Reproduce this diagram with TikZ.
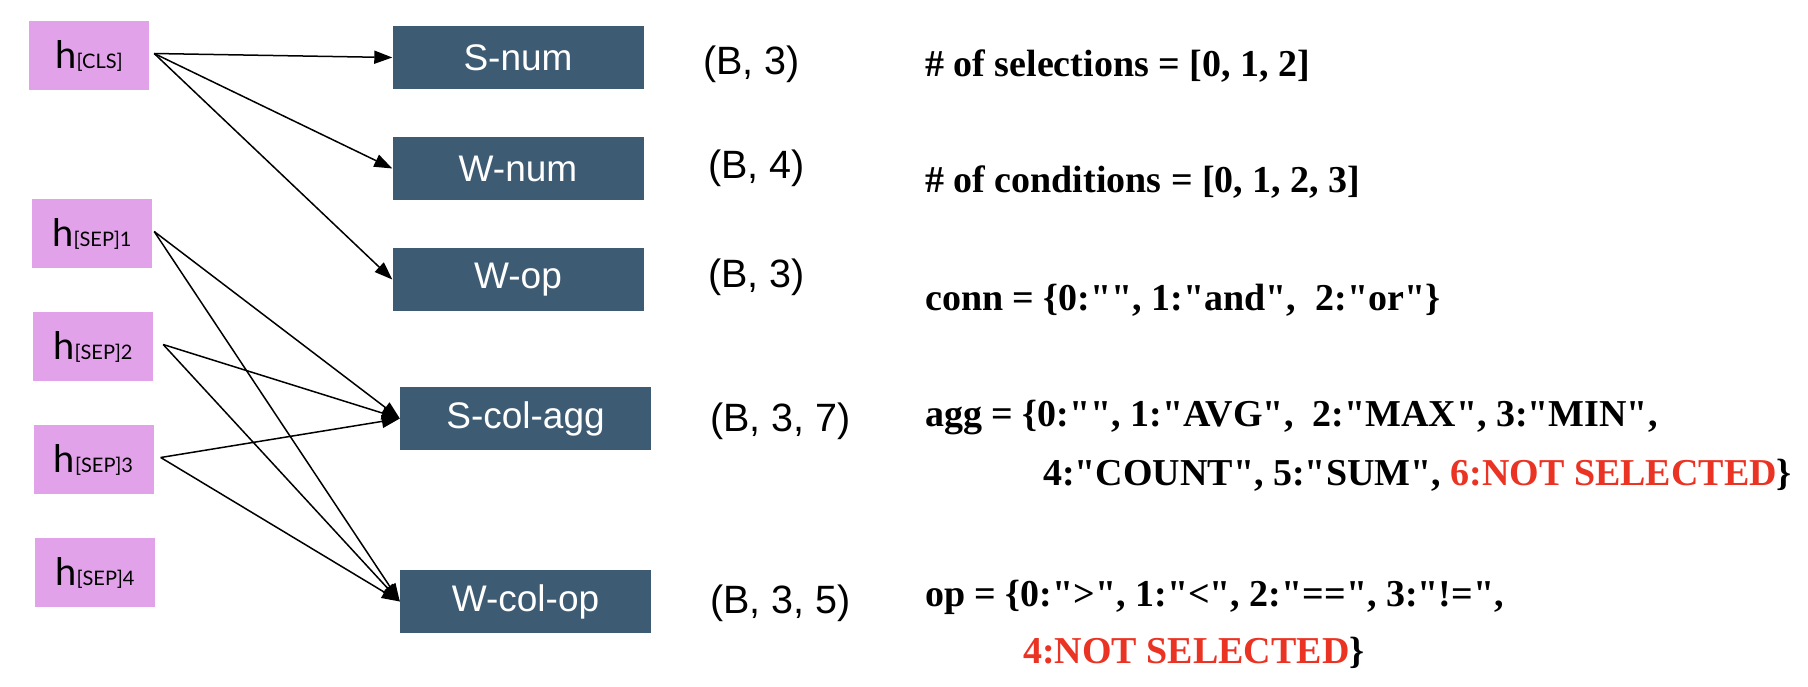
\documentclass[tikz,border=0pt]{standalone}
\usepackage{xcolor}
\usepackage{fontspec}
\setmainfont{Liberation Serif}[Ligatures=TeXOff]
\newfontfamily\headfont{Liberation Sans}
\newfontfamily\tokfont{Lato}
\usetikzlibrary{arrows.meta}
\definecolor{tokpink}{RGB}{226,162,234}
\definecolor{headblue}{RGB}{62,91,116}
\definecolor{selred}{RGB}{234,51,35}
\newcommand{\tokidx}[1]{{\fontsize{20}{24}\selectfont #1}}

\begin{document}
\begin{tikzpicture}[x=1pt, y=-1pt,
    token/.style={fill=tokpink, minimum width=120pt, minimum height=69pt, inner sep=0pt, font=\tokfont\fontsize{38}{44}\selectfont},
    head/.style={fill=headblue, text=white, minimum width=251pt, minimum height=63pt, inner sep=0pt, font=\headfont\fontsize{37}{44}\selectfont},
    dimlabel/.style={anchor=west, inner sep=0pt, font=\headfont\fontsize{39.5}{44}\selectfont},
    vocab/.style={anchor=base west, inner sep=0pt, font=\bfseries\fontsize{38}{44}\selectfont},
    link/.style={-{Triangle[length=18pt, width=13pt]}, line width=1.5pt}]

    \useasboundingbox (0,0) rectangle (1808,686);

    \node[token] (hcls) at (89,55.5) {h\tokidx{[CLS]}};
    \node[token] (hsep1) at (92,233.5) {h\tokidx{[SEP]1}};
    \node[token] (hsep2) at (93,346.5) {h\tokidx{[SEP]2}};
    \node[token] (hsep3) at (93.5,459.5) {h\tokidx{[SEP]3}};
    \node[token] (hsep4) at (95,572.5) {h\tokidx{[SEP]4}};

    \node[head] (snum) at (518,57.5) {S-num};
    \node[head] (wnum) at (518,168.5) {W-num};
    \node[head] (wop) at (518,279.5) {W-op};
    \node[head] (scolagg) at (525.5,418.5) {S-col-agg};
    \node[head] (wcolop) at (525.5,601.5) {W-col-op};

    \foreach \target in {snum,wnum,wop}
        \draw[link] ([shift={(5,-2)}]hcls.east) -- (\target.west);
    \foreach \src/\dx in {hsep1/2,hsep2/10,hsep3/7} {
        \draw[link] ([shift={(\dx,-2)}]\src.east) -- (scolagg.west);
        \draw[link] ([shift={(\dx,-2)}]\src.east) -- (wcolop.west);
    }

    \node[dimlabel] (dsnum) at (703,64.5) {(B, 3)};
    \node[dimlabel] (dwnum) at (708,168) {(B, 4)};
    \node[dimlabel] (dwop) at (708,277) {(B, 3)};
    \node[dimlabel] (dscol) at (710,421) {(B, 3, 7)};
    \node[dimlabel] (dwcol) at (710,603.5) {(B, 3, 5)};

    \node[vocab] (vsnum) at (925,76) {\# of selections = [0, 1, 2]};
    \node[vocab] (vwnum) at (925,192) {\# of conditions = [0, 1, 2, 3]};
    \node[vocab] (vwop) at (925,310) {conn = \{0:"", 1:"and", \ 2:"or"\}};
    \node[vocab] (vscol) at (925,426) {agg = \{0:"", 1:"AVG", \ 2:"MAX", 3:"MIN",};
    \node[vocab] (vscoltail) at (1043,485) {4:"COUNT", 5:"SUM", \textcolor{selred}{6:NOT SELECTED}\}};
    \node[vocab] (vwcol) at (925,606) {op = \{0:">", 1:"<", 2:"==", 3:"!=",};
    \node[vocab] (vwcoltail) at (1023,663) {\textcolor{selred}{4:NOT SELECTED}\}};
\end{tikzpicture}
\end{document}
